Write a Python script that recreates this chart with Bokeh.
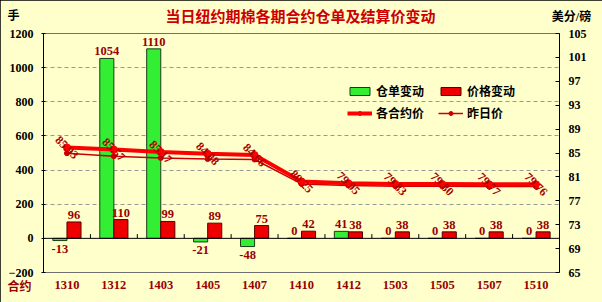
from bokeh.plotting import figure
from bokeh.models import (Range1d, LinearAxis, FixedTicker, Span, LabelSet, Label,
                          ColumnDataSource, Legend, LegendItem, FactorRange)
from bokeh.transform import dodge
from bokeh.embed import file_html
from bokeh.resources import INLINE

# ---------------- data ----------------
contracts = ["1310", "1312", "1403", "1405", "1407", "1410", "1412", "1503", "1505", "1507", "1510"]
warrant_change = [-13, 1054, 1110, -21, -48, 0, 41, 0, 0, 0, 0]          # 仓单变动 (手)
price_change = [96, 110, 99, 89, 75, 42, 38, 38, 38, 38, 38]             # 价格变动
settle_price = [85.93, 85.57, 85.17, 84.88, 84.66, 80.25, 79.95, 79.83, 79.80, 79.77, 79.76]  # 各合约价
prev_price = [84.97, 84.47, 84.18, 83.99, 83.91, 79.83, 79.57, 79.45, 79.42, 79.39, 79.38]    # 昨日价
left_ticks = [-200, 0, 200, 400, 600, 800, 1000, 1200]
right_ticks = [65, 69, 73, 77, 81, 85, 89, 93, 97, 101, 105]
grid_ticks = [200, 400, 600, 800, 1000]

title_text = "当日纽约期棉各期合约仓单及结算价变动"
left_unit = "手"
right_unit = "美分/磅"
cat_title = "合约"

BG = "#FFFFCC"
NUM_FONT = "Liberation Serif"
CJK_FONT = "Noto Sans CJK SC"
LBL_FONT = "Liberation Serif, Noto Sans CJK SC"

p = figure(width=602, height=302, output_backend="svg", toolbar_location=None,
           x_range=FactorRange(factors=contracts), y_range=Range1d(-200, 1200),
           min_border_left=43, min_border_right=43, min_border_top=33, min_border_bottom=30)
p.extra_y_ranges = {"price": Range1d(65, 105)}
p.background_fill_color = BG
p.border_fill_color = BG
p.outline_line_color = "#707070"
p.styles = {"outline": "2px solid black", "outline-offset": "-2px"}

# axes
xa = p.xaxis[0]
xa.axis_line_color = None
xa.major_tick_line_color = None
xa.major_tick_out = 0
xa.major_tick_in = 0
xa.minor_tick_line_color = None
xa.major_label_standoff = -6
xa.major_label_text_font = NUM_FONT
xa.major_label_text_font_style = "bold"
xa.major_label_text_font_size = "12.5px"
xa.major_label_text_color = "#990000"

ya = p.yaxis[0]
ya.ticker = FixedTicker(ticks=left_ticks)
ya.axis_line_color = "black"
ya.major_tick_in = 2
ya.major_tick_out = 2
ya.minor_tick_line_color = None
ya.major_label_standoff = 8
ya.major_label_text_font = NUM_FONT
ya.major_label_text_font_style = "bold"
ya.major_label_text_font_size = "12px"
ya.major_label_text_color = "black"

ra = LinearAxis(y_range_name="price", ticker=FixedTicker(ticks=right_ticks))
ra.axis_line_color = "black"
ra.major_tick_in = 4
ra.major_tick_out = 0
ra.minor_tick_line_color = None
ra.major_label_standoff = 9
ra.major_label_text_font = NUM_FONT
ra.major_label_text_font_style = "bold"
ra.major_label_text_font_size = "12px"
ra.major_label_text_color = "black"
p.add_layout(ra, "right")

p.xgrid.visible = False
p.ygrid.ticker = FixedTicker(ticks=grid_ticks)
p.ygrid.grid_line_color = "#999999"
p.ygrid.grid_line_dash = "4 3"

# zero line with category separators
p.add_layout(Span(location=0, dimension="width", line_color="black", line_width=1))
tick_src = ColumnDataSource(dict(cat=contracts[:-1], y0=[0] * (len(contracts) - 1),
                                 y1=[25] * (len(contracts) - 1)))
p.segment(x0=dodge("cat", 0.5, range=p.x_range), y0="y0",
          x1=dodge("cat", 0.5, range=p.x_range), y1="y1",
          source=tick_src, line_color="black", line_width=1)

src = ColumnDataSource(dict(cat=contracts, warrant=warrant_change, pchg=price_change,
                            settle=settle_price, prev=prev_price,
                            settle_txt=["%.2f" % v for v in settle_price],
                            pchg_txt=[str(v) for v in price_change]))

green = p.vbar(x=dodge("cat", -0.15, range=p.x_range), top="warrant", bottom=0, width=0.3,
               source=src, fill_color="#33EE33", line_color="#1a3a1a", line_width=1)
red = p.vbar(x=dodge("cat", 0.15, range=p.x_range), top="pchg", bottom=0, width=0.3,
             source=src, fill_color="#EE0000", line_color="#550000", line_width=1)

prev_line = p.line(x="cat", y="prev", y_range_name="price", source=src,
                   line_color="#CC0000", line_width=1.5)
prev_pts = p.scatter(x="cat", y="prev", y_range_name="price", source=src,
                     marker="circle", size=5, fill_color="#CC0000", line_color="#CC0000")
main_line = p.line(x="cat", y="settle", y_range_name="price", source=src,
                   line_color="#FF0000", line_width=4)
main_pts = p.scatter(x="cat", y="settle", y_range_name="price", source=src,
                     marker="circle", size=7, fill_color="#FF0000", line_color="#FF0000")

# bar value labels
pos_idx = [i for i, v in enumerate(warrant_change) if v >= 0]
neg_idx = [i for i, v in enumerate(warrant_change) if v < 0]
g_pos = ColumnDataSource(dict(cat=[contracts[i] for i in pos_idx],
                              v=[warrant_change[i] for i in pos_idx],
                              t=[str(warrant_change[i]) for i in pos_idx]))
g_neg = ColumnDataSource(dict(cat=[contracts[i] for i in neg_idx],
                              v=[warrant_change[i] for i in neg_idx],
                              t=[str(warrant_change[i]) for i in neg_idx]))
lab_style = dict(text_font=NUM_FONT, text_font_style="bold", text_font_size="12.5px",
                 text_color="#990000", text_align="center")
p.add_layout(LabelSet(x=dodge("cat", -0.15, range=p.x_range), y="v", text="t", source=g_pos,
                      y_offset=3, text_baseline="bottom", **lab_style))
p.add_layout(LabelSet(x=dodge("cat", -0.15, range=p.x_range), y="v", text="t", source=g_neg,
                      y_offset=-4, text_baseline="top", **lab_style))
p.add_layout(LabelSet(x=dodge("cat", 0.15, range=p.x_range), y="pchg", text="pchg_txt", source=src,
                      y_offset=3, text_baseline="bottom", **lab_style))

# line value labels (rotated)
p.add_layout(LabelSet(x="cat", y="settle", y_range_name="price", text="settle_txt", source=src,
                      angle=-45, angle_units="deg", text_align="center", text_baseline="middle",
                      text_font=NUM_FONT, text_font_style="bold", text_font_size="12px",
                      text_color="#AA0000"))

# legend
legend = Legend(items=[LegendItem(label="仓单变动", renderers=[green]),
                       LegendItem(label="价格变动", renderers=[red]),
                       LegendItem(label="各合约价", renderers=[main_line, main_pts]),
                       LegendItem(label="昨日价", renderers=[prev_line, prev_pts])],
                location=(304, 151), orientation="horizontal", ncols=2,
                glyph_width=25, glyph_height=10, label_standoff=4, label_width=57,
                label_height=16, spacing=5, padding=0, margin=0,
                background_fill_alpha=0, border_line_color=None,
                label_text_font=CJK_FONT, label_text_font_style="bold",
                label_text_font_size="12px", label_text_color="black")
p.add_layout(legend)


# texts outside the plot area: labels in side panels, positioned on the canvas
def outer_label(text, x, y, size, color):
    return Label(x=x, y=y, x_units="canvas", y_units="canvas", text=text,
                 text_align="center", text_baseline="middle", text_font=LBL_FONT,
                 text_font_style="bold", text_font_size=size, text_color=color)


p.add_layout(outer_label(title_text, 300, 16, "15px", "#CC0000"), "above")
p.add_layout(outer_label(right_unit, 571, 16, "12px", "black"), "above")
p.add_layout(outer_label(left_unit, 13, 15, "12px", "black"), "right")
p.below = [outer_label(cat_title, 19, 286, "12px", "#990000")] + list(p.below)

open("out.html", "w").write(file_html(p, INLINE))
